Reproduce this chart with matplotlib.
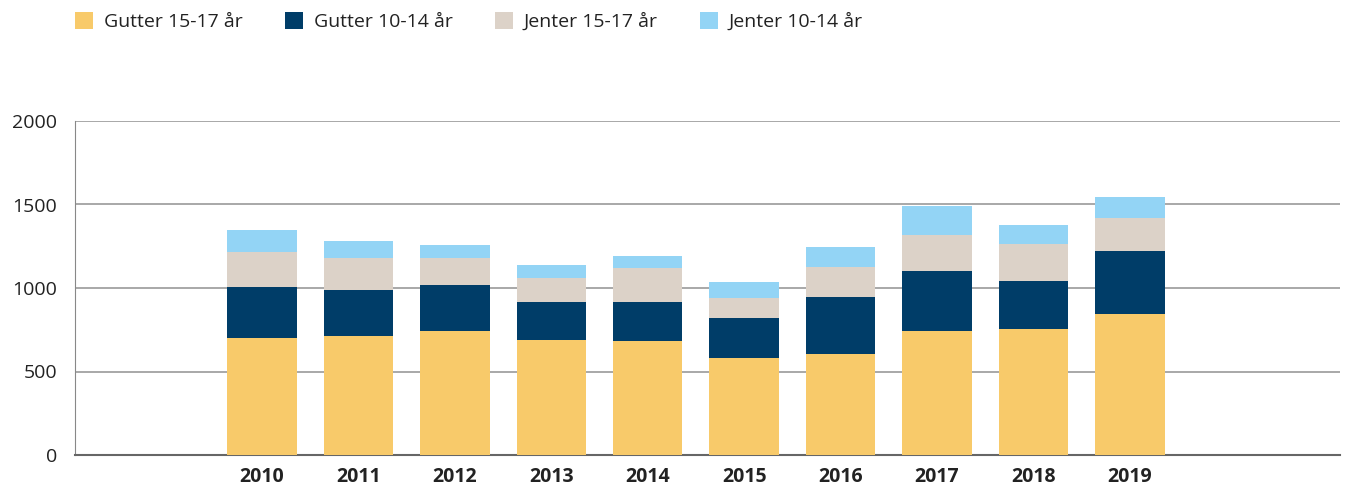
import numpy as np
import matplotlib.pyplot as plt
from matplotlib.patches import Patch

years = ["2010", "2011", "2012", "2013", "2014", "2015", "2016", "2017", "2018", "2019"]
gutter_15_17 = np.array([703, 715, 745, 686, 680, 578, 602, 745, 757, 847])
gutter_10_14 = np.array([305, 275, 275, 233, 239, 245, 347, 359, 287, 377])
jenter_15_17 = np.array([210, 191, 161, 139, 199, 120, 179, 215, 221, 196])
jenter_10_14 = np.array([131, 101, 78, 81, 76, 95, 120, 174, 114, 126])

labels = ["Gutter 15-17 år", "Gutter 10-14 år", "Jenter 15-17 år", "Jenter 10-14 år"]
colors = ["#F8CA6A", "#003D68", "#DCD2C8", "#93D4F5"]

plt.rcParams['font.family'] = ['Open Sans', 'DejaVu Sans']

fig = plt.figure(figsize=(13.46, 4.92), dpi=100)
ax = fig.add_axes([75/1346, 1 - 455/492, 1265/1346, 334/492])

x = np.arange(len(years))
bottom = np.zeros(len(years))
for vals, col, lab in zip([gutter_15_17, gutter_10_14, jenter_15_17, jenter_10_14], colors, labels):
    ax.bar(x, vals, bottom=bottom, width=0.72, color=col, label=lab, zorder=3)
    bottom = bottom + vals

ax.set_xlim(-1.94, 11.18)
ax.set_ylim(0, 2000)
ax.set_yticks([0, 500, 1000, 1500, 2000])
ax.set_xticks(x)
ax.set_xticklabels(years, fontweight="bold")
ax.yaxis.grid(True, color="#999999", linewidth=1.2, zorder=0)
ax.tick_params(axis="both", length=0, labelsize=14, colors="#222222")
ax.tick_params(axis="x", pad=9)
ax.tick_params(axis="y", pad=13)
for s in ["top", "right"]:
    ax.spines[s].set_visible(False)
ax.spines["left"].set_color("#888888")
ax.spines["bottom"].set_color("#666666")
ax.spines["bottom"].set_linewidth(1.5)

handles = [Patch(facecolor=c) for c in colors]
fig.legend(handles, labels, ncol=4, loc="upper left", bbox_to_anchor=(75/1346, 1 - 12/492),
           frameon=False, fontsize=14, handlelength=0.95, handleheight=0.95,
           borderpad=0, borderaxespad=0,
           handletextpad=0.55, columnspacing=2.15, labelcolor="#222222")

fig.savefig("out.png", dpi=100)
